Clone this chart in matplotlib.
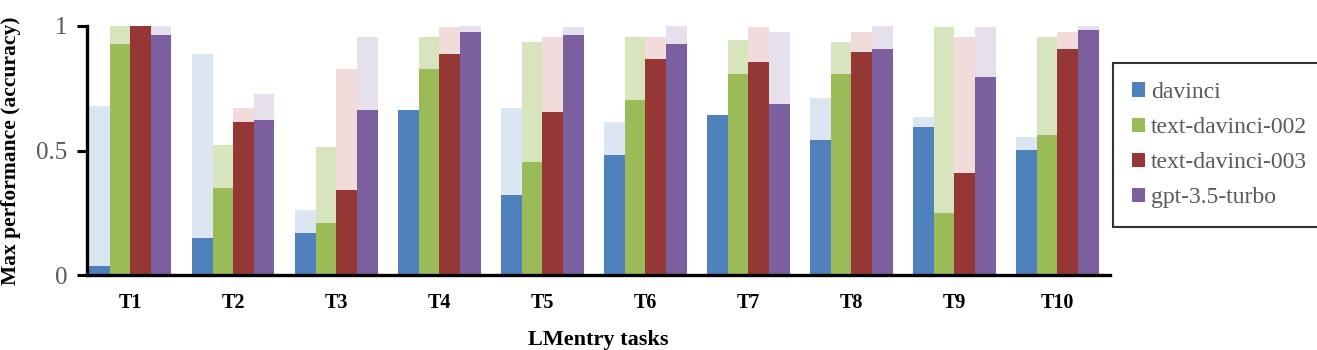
import matplotlib
matplotlib.use("Agg")
import matplotlib.pyplot as plt
from matplotlib.patches import Patch
import numpy as np

plt.rcParams['font.family'] = ['Liberation Serif', 'DejaVu Serif']

tasks = ["T1", "T2", "T3", "T4", "T5", "T6", "T7", "T8", "T9", "T10"]
models = ["davinci", "text-davinci-002", "text-davinci-003", "gpt-3.5-turbo"]

# solid (lower) values
davinci_low = [0.037, 0.147, 0.167, 0.663, 0.321, 0.481, 0.643, 0.541, 0.593, 0.501]
td002_low = [0.928, 0.351, 0.207, 0.826, 0.452, 0.704, 0.806, 0.806, 0.248, 0.562]
td003_low = [1.0, 0.616, 0.341, 0.888, 0.656, 0.867, 0.854, 0.894, 0.411, 0.908]
gpt35_low = [0.965, 0.622, 0.663, 0.977, 0.964, 0.928, 0.685, 0.908, 0.794, 0.984]

# light (upper) values
davinci_high = [0.68, 0.888, 0.261, 0.663, 0.672, 0.614, 0.643, 0.712, 0.635, 0.554]
td002_high = [1.0, 0.522, 0.513, 0.956, 0.936, 0.956, 0.944, 0.936, 0.997, 0.956]
td003_high = [1.0, 0.672, 0.827, 0.997, 0.956, 0.956, 0.997, 0.977, 0.956, 0.977]
gpt35_high = [1.0, 0.726, 0.957, 1.0, 0.997, 1.0, 0.977, 1.0, 0.997, 1.0]

low_vals = [davinci_low, td002_low, td003_low, gpt35_low]
high_vals = [davinci_high, td002_high, td003_high, gpt35_high]

dark_colors = ["#4F81BD", "#9BBB59", "#953735", "#7B5F9F"]
light_colors = ["#DCE6F2", "#D8E4BD", "#F2DCDB", "#E6E0EC"]

fig = plt.figure(figsize=(13.17, 3.5), dpi=100)
ax = fig.add_axes([87/1317, (350-275)/350, (1110-87)/1317, (275-26)/350])

x = np.arange(len(tasks))
w = 0.2
for i in range(4):
    pos = x + (i - 1.5) * w
    ax.bar(pos, high_vals[i], width=w, color=light_colors[i], edgecolor='none', zorder=1)
    ax.bar(pos, low_vals[i], width=w, color=dark_colors[i], edgecolor='none', zorder=2)

ax.set_xlim(-0.42, 9.51)
ax.set_ylim(0, 1)
ax.set_yticks([0, 0.5, 1])
ax.set_yticklabels(["0", "0.5", "1"])
ax.set_xticks(x)
ax.set_xticklabels(tasks, fontweight='bold', fontsize=14.5)
ax.tick_params(axis='x', length=0, pad=13)
ax.tick_params(axis='y', length=7, width=2.2, labelsize=18, labelcolor='#595959', pad=7, direction='out')
for s in ['top', 'right']:
    ax.spines[s].set_visible(False)
for s in ['left', 'bottom']:
    ax.spines[s].set_linewidth(2.4)
    ax.spines[s].set_color('black')

ax.set_ylabel("Max performance (accuracy)", fontweight='bold', fontsize=15.5, labelpad=11)
ax.set_xlabel("LMentry tasks", fontweight='bold', fontsize=16, labelpad=12)

handles = [Patch(facecolor=c, edgecolor='none') for c in dark_colors]
leg = fig.legend(handles, models, loc='upper left', bbox_to_anchor=(1113/1317, (350-63)/350),
                 fontsize=17, frameon=True, fancybox=False, handlelength=0.55, handleheight=0.55,
                 handletextpad=0.25, labelspacing=0.6, borderpad=0.8, borderaxespad=0)
leg.get_frame().set_edgecolor('black')
leg.get_frame().set_linewidth(1.5)
for t in leg.get_texts():
    t.set_color('#595959')

fig.savefig("out.png", dpi=100)
